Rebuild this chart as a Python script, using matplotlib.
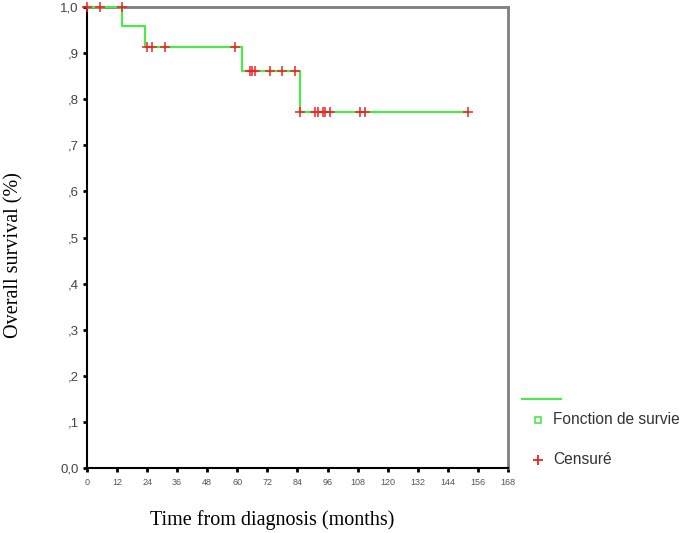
import matplotlib
matplotlib.use("Agg")
import matplotlib.pyplot as plt
from matplotlib.lines import Line2D

# Kaplan-Meier curve (months, survival)
step_times = [0, 14, 23, 62, 85, 152]
step_surv = [1.0, 0.958, 0.913, 0.861, 0.772, 0.772]

# censored observations
cens_times = [0, 5, 14, 24, 26, 31, 59, 65, 66, 67, 73, 78, 83,
              85, 91, 92, 94, 95, 97, 109, 111, 152]
cens_surv = [1.0, 1.0, 1.0, 0.913, 0.913, 0.913, 0.913, 0.861, 0.861, 0.861, 0.861, 0.861, 0.861,
             0.772, 0.772, 0.772, 0.772, 0.772, 0.772, 0.772, 0.772, 0.772]

xticks = list(range(0, 169, 12))
yticks = [0.0, 0.1, 0.2, 0.3, 0.4, 0.5, 0.6, 0.7, 0.8, 0.9, 1.0]
ylabels = ["0,0", ",1", ",2", ",3", ",4", ",5", ",6", ",7", ",8", ",9", "1,0"]

green = "#4ee84e"
red = "#ee2222"

fig = plt.figure(figsize=(6.85, 5.33), dpi=100)
ax = fig.add_axes([87/685, 1 - 468/533, (508 - 87)/685, (468 - 7)/533])

ax.step(step_times, step_surv, where="post", color=green, lw=1.6, zorder=4,
        clip_on=False)
ax.plot(cens_times, cens_surv, ls="none", marker="+", ms=7, mew=1.1,
        color=red, zorder=5, clip_on=False)

ax.set_xlim(0, 168)
ax.set_ylim(0, 1.0)
ax.set_xticks(xticks)
ax.set_xticklabels([str(t) for t in xticks], fontsize=6.5, color="#555555",
                   family="Liberation Sans")
ax.set_yticks(yticks)
ax.set_yticklabels(ylabels, fontsize=9.5, color="#444444", family="Liberation Sans")
ax.tick_params(axis="both", direction="out", length=3, width=2, color="black")
ax.tick_params(axis="x", pad=4)
ax.tick_params(axis="y", pad=3)

for s in ["left", "bottom"]:
    ax.spines[s].set_color("black")
    ax.spines[s].set_linewidth(1.5)
for s in ["top", "right"]:
    ax.spines[s].set_color("#7f7f7f")
    ax.spines[s].set_linewidth(2)

fig.text(14/685, 1 - 255/533, "Overall survival (%)", rotation=90,
         ha="center", va="center", fontsize=14.5, family="Liberation Serif")
fig.text(272/685, 1 - 520/533, "Time from diagnosis (months)",
         ha="center", va="center", fontsize=14.5, family="Liberation Serif")

# legend
fig.add_artist(Line2D([522/685, 561/685], [1 - 399/533, 1 - 399/533],
                      color=green, lw=1.5))
fig.add_artist(Line2D([538/685], [1 - 420/533], marker="s", ms=4.5, mfc="none",
                      mec=green, mew=1.2, ls="none"))
fig.add_artist(Line2D([538/685], [1 - 460/533], marker="+", ms=7, mew=1.3,
                      color=red, ls="none"))
fig.text(553/685, 1 - 420/533, "Fonction de survie", va="center", fontsize=11.2,
         color="#333333", family="Liberation Sans")
fig.text(553/685, 1 - 460/533, "Censuré", va="center", fontsize=11.2,
         color="#333333", family="Liberation Sans")

fig.savefig("out.png", dpi=100)
